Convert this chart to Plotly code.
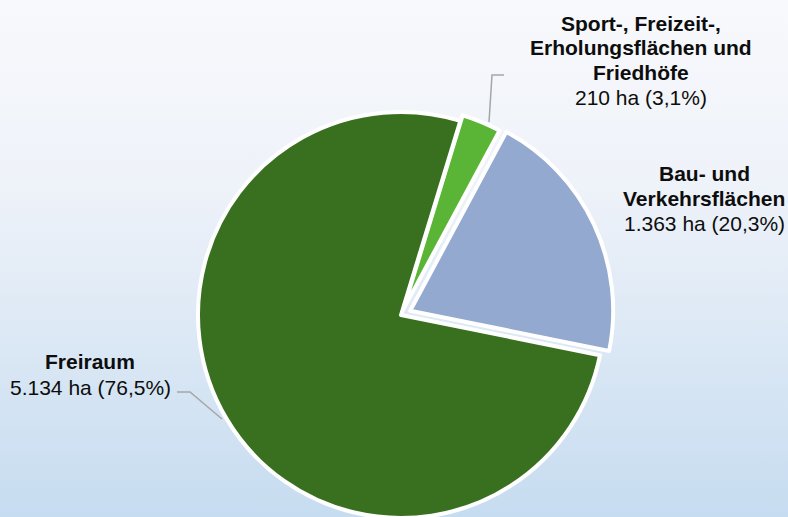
import base64
import plotly.graph_objects as go

# ---- data ----
categories = [["Sport-, Freizeit-,", "Erholungsflächen und", "Friedhöfe"],
              ["Bau- und", "Verkehrsflächen"],
              ["Freiraum"]]
area_ha = [210, 1363, 5134]
area_labels = ["210", "1.363", "5.134"]
pct_labels = ["3,1%", "20,3%", "76,5%"]
colors = ["#5ab536", "#94a9d0", "#387020"]
pulls = [0.03, 0.05, 0.0]

# ---- layout constants (pixels) ----
W, H = 788, 540
cx, cy, r = 401, 315, 203
maxpull = max(pulls)
half = r * (1 + maxpull)

def fx(x):
    return x / W

def fy(y):
    return 1 - y / H

fig = go.Figure()
fig.add_trace(go.Pie(
    values=area_ha,
    labels=[" ".join(c) for c in categories],
    sort=False,
    direction="clockwise",
    rotation=17,
    pull=pulls,
    marker=dict(colors=colors, line=dict(color="white", width=4)),
    textinfo="none",
    hoverinfo="label+value+percent",
    showlegend=False,
    domain=dict(x=[fx(cx - half), fx(cx + half)], y=[fy(cy + half), fy(cy - half)]),
))

# labels: (center x, first line y, line step)
label_pos = [(641, 23, 24.7), (704, 174, 25), (90, 361, 26)]
font = dict(family="Liberation Sans, Arial, sans-serif", size=21, color="#0d0d0d")
annotations = []
for cat, a, p, (lx, ly, step) in zip(categories, area_labels, pct_labels, label_pos):
    lines = [f"<b>{t}</b>" for t in cat] + [f"{a} ha ({p})"]
    for i, t in enumerate(lines):
        annotations.append(dict(
            x=fx(lx), y=fy(ly + i * step), xref="paper", yref="paper",
            text=t, showarrow=False, xanchor="center", yanchor="middle",
            font=font,
        ))

def path(points):
    return "M " + " L ".join(f"{fx(x)},{fy(y)}" for x, y in points)

shapes = [
    dict(type="path", xref="paper", yref="paper",
         path=path([(489, 122), (492, 75), (504, 75)]),
         line=dict(color="#a6a6a6", width=1.5)),
    dict(type="path", xref="paper", yref="paper",
         path=path([(177, 392), (190, 392), (222, 419)]),
         line=dict(color="#a6a6a6", width=1.5)),
]

svg = (
    '<svg xmlns="http://www.w3.org/2000/svg" width="788" height="540" preserveAspectRatio="none">'
    '<defs><linearGradient id="g" x1="0" y1="0" x2="0" y2="1">'
    '<stop offset="0" stop-color="#f8f9fc"/>'
    '<stop offset="0.35" stop-color="#eef2f9"/>'
    '<stop offset="0.957" stop-color="#c6dcf0"/>'
    '<stop offset="1" stop-color="#c4daef"/>'
    '</linearGradient></defs>'
    '<rect width="788" height="540" fill="url(#g)"/></svg>'
)
src = "data:image/svg+xml;base64," + base64.b64encode(svg.encode()).decode()

fig.update_layout(
    width=W, height=H,
    margin=dict(l=0, r=0, t=0, b=0),
    paper_bgcolor="#e6eef8",
    plot_bgcolor="rgba(0,0,0,0)",
    annotations=annotations,
    shapes=shapes,
    images=[dict(source=src, xref="paper", yref="paper", x=0, y=1, sizex=1, sizey=1,
                 sizing="stretch", layer="below", xanchor="left", yanchor="top")],
)

fig.write_html(
    "out.html",
    config={"displayModeBar": False},
    post_script="document.body.style.margin='0';document.body.style.overflow='hidden';",
)
